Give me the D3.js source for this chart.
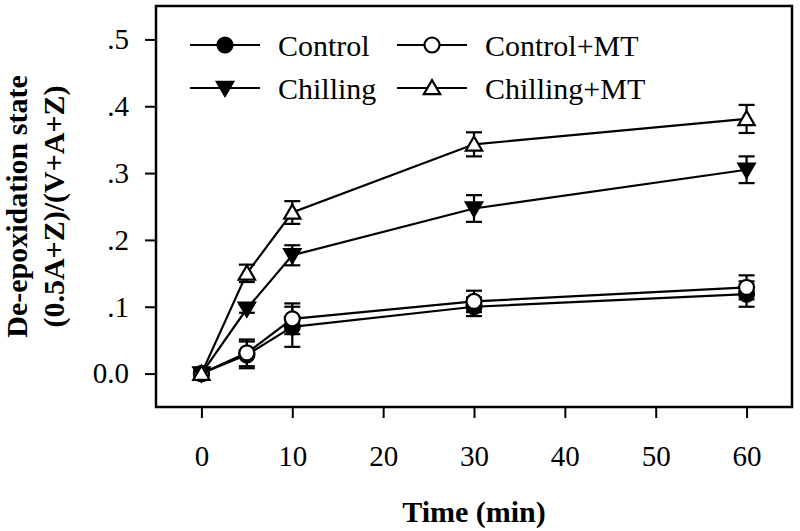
<!DOCTYPE html>
<html>
<head>
<meta charset="utf-8">
<script src="https://cdn.jsdelivr.net/npm/d3@7"></script>
<style>
  body { margin: 0; background: #fff; }
  text { font-family: "Liberation Serif", "Times New Roman", serif; fill: #000; }
</style>
</head>
<body>
<script>
// Data
const times = [0, 5, 10, 30, 60];
const control = [0, 0.028, 0.070, 0.100, 0.119];
const controlErr = [0, 0.020, 0.030, 0.014, 0.019];
const controlMT = [0, 0.031, 0.082, 0.108, 0.129];
const controlMTErr = [0, 0.020, 0.023, 0.016, 0.018];
const chilling = [0, 0.097, 0.177, 0.247, 0.305];
const chillingErr = [0, 0.006, 0.015, 0.020, 0.020];
const chillingMT = [0, 0.150, 0.241, 0.343, 0.381];
const chillingMTErr = [0, 0.013, 0.017, 0.018, 0.021];

const xTicks = [0, 10, 20, 30, 40, 50, 60];
const yTicks = [0, 0.1, 0.2, 0.3, 0.4, 0.5];
const yTickLabels = ["0.0", ".1", ".2", ".3", ".4", ".5"];

const series = [
  { name: "Control", values: control, err: controlErr, shape: "circle", fill: "#000" },
  { name: "Control+MT", values: controlMT, err: controlMTErr, shape: "circle", fill: "#fff" },
  { name: "Chilling", values: chilling, err: chillingErr, shape: "down", fill: "#000" },
  { name: "Chilling+MT", values: chillingMT, err: chillingMTErr, shape: "up", fill: "#fff" }
];

const W = 800, H = 531;
const plot = { left: 156, right: 792, top: 6, bottom: 407 };

const svg = d3.select("body").append("svg")
  .attr("width", W)
  .attr("height", H);

const x = d3.scaleLinear().domain([-5, 65]).range([plot.left, plot.right]);
const y = d3.scaleLinear().domain([-0.05, 0.55]).range([plot.bottom, plot.top]);

// axes (ticks outside the frame)
const xAxis = svg.append("g")
  .attr("transform", `translate(0,${plot.bottom})`)
  .call(d3.axisBottom(x).tickValues(xTicks).tickSize(11).tickPadding(27).tickSizeOuter(0));
xAxis.select(".domain").remove();
xAxis.selectAll("line").attr("stroke", "#000").attr("stroke-width", 2);
xAxis.selectAll("text").attr("font-size", 29).attr("font-family", "Liberation Serif");

const yAxis = svg.append("g")
  .attr("transform", `translate(${plot.left},0)`)
  .call(d3.axisLeft(y).tickValues(yTicks).tickFormat((d, i) => yTickLabels[i]).tickSize(11).tickPadding(16).tickSizeOuter(0));
yAxis.select(".domain").remove();
yAxis.selectAll("line").attr("stroke", "#000").attr("stroke-width", 2);
yAxis.selectAll("text").attr("font-size", 29).attr("font-family", "Liberation Serif");

// frame
svg.append("rect")
  .attr("x", plot.left)
  .attr("y", plot.top)
  .attr("width", plot.right - plot.left)
  .attr("height", plot.bottom - plot.top)
  .attr("fill", "none")
  .attr("stroke", "#000")
  .attr("stroke-width", 2.5);

// axis titles
svg.append("text")
  .attr("x", (plot.left + plot.right) / 2)
  .attr("y", 522)
  .attr("text-anchor", "middle")
  .attr("font-size", 30)
  .attr("font-weight", "bold")
  .text("Time (min)");

const yTitle = svg.append("text")
  .attr("transform", `translate(0,${(plot.top + plot.bottom) / 2}) rotate(-90)`)
  .attr("text-anchor", "middle")
  .attr("font-size", 30)
  .attr("font-weight", "bold");
yTitle.append("tspan").attr("x", 0).attr("y", 27).text("De-epoxidation state");
yTitle.append("tspan").attr("x", 0).attr("y", 64).text("(0.5A+Z)/(V+A+Z)");

// markers
function marker(g, shape, fill, cx, cy) {
  if (shape === "circle") {
    g.append("circle").attr("cx", cx).attr("cy", cy).attr("r", 7.5)
      .attr("fill", fill).attr("stroke", "#000").attr("stroke-width", 2.2);
  } else {
    const sym = d3.symbol().type(d3.symbolTriangle).size(115);
    g.append("path").attr("d", sym())
      .attr("transform", `translate(${cx},${cy + (shape === "up" ? 1.5 : -1.5)}) rotate(${shape === "up" ? 0 : 180})`)
      .attr("fill", fill).attr("stroke", "#000").attr("stroke-width", 2.2)
      .attr("stroke-linejoin", "miter");
  }
}

const line = d3.line().x(d => x(d.t)).y(d => y(d.v));

series.forEach(s => {
  const pts = times.map((t, i) => ({ t: t, v: s.values[i], e: s.err[i] }));
  const g = svg.append("g");

  g.append("path")
    .datum(pts)
    .attr("d", line)
    .attr("fill", "none")
    .attr("stroke", "#000")
    .attr("stroke-width", 2.2);

  // error bars
  const eb = g.selectAll(".err").data(pts.filter(d => d.e > 0)).enter().append("g");
  eb.append("line")
    .attr("x1", d => x(d.t)).attr("x2", d => x(d.t))
    .attr("y1", d => y(d.v - d.e)).attr("y2", d => y(d.v + d.e))
    .attr("stroke", "#000").attr("stroke-width", 2.2);
  [-1, 1].forEach(sign => {
    eb.append("line")
      .attr("x1", d => x(d.t) - 8).attr("x2", d => x(d.t) + 8)
      .attr("y1", d => y(d.v + sign * d.e)).attr("y2", d => y(d.v + sign * d.e))
      .attr("stroke", "#000").attr("stroke-width", 2.2);
  });

  pts.forEach(d => marker(g, s.shape, s.fill, x(d.t), y(d.v)));
});

// legend
const legendPos = [
  { lx: 190, ty: 45 },
  { lx: 397, ty: 45 },
  { lx: 190, ty: 88 },
  { lx: 397, ty: 88 }
];
series.forEach((s, i) => {
  const p = legendPos[i];
  const g = svg.append("g");
  g.append("line")
    .attr("x1", p.lx).attr("x2", p.lx + 70)
    .attr("y1", p.ty).attr("y2", p.ty)
    .attr("stroke", "#000").attr("stroke-width", 2.2);
  marker(g, s.shape, s.fill, p.lx + 35, p.ty);
  g.append("text")
    .attr("x", p.lx + 88)
    .attr("y", p.ty)
    .attr("dy", "0.35em")
    .attr("font-size", 30)
    .text(s.name);
});
</script>
</body>
</html>
